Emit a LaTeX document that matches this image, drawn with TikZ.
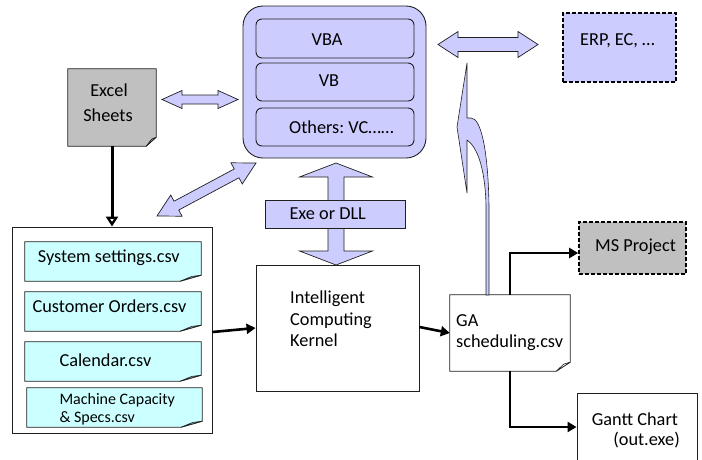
\documentclass[tikz,border=0pt]{standalone}
\usepackage{fontspec}
\setmainfont{Carlito}
\frenchspacing
\usetikzlibrary{calc,arrows.meta}

\definecolor{lav}{HTML}{CCCCFF}
\definecolor{cya}{HTML}{CCFFFF}
\definecolor{gry}{HTML}{C0C0C0}
\definecolor{edge}{HTML}{202020}

\tikzset{
  box/.style={rectangle, draw=edge, line width=0.9pt, inner sep=0pt},
  sheet/.style={rectangle, inner sep=0pt},
  dashbox/.style={rectangle, draw=black, line width=1.6pt, dash pattern=on 4pt off 2pt, inner sep=0pt},
  lbl/.style={inner sep=0pt, font=\fontsize{18.3}{22}\selectfont},
  lblsmall/.style={inner sep=0pt, font=\fontsize{16}{19}\selectfont},
  blockarrow/.style={fill=lav, draw=edge, line width=0.7pt, line join=miter},
  flow/.style={draw=black, line width=2.6pt, -{Triangle[width=10pt,length=9pt]}},
  openflow/.style={draw=black, line width=3pt, -{Triangle[open,width=12pt,length=10pt,line width=2.4pt,fill=white]}},
}

% double-headed block arrow: start, end, head length, head half-width, shaft half-width
\newcommand\blockdbl[5]{%
  \filldraw[blockarrow] (#1)
    -- ($(#1)!#3!(#2)!#4!90:(#2)$) -- ($(#1)!#3!(#2)!#5!90:(#2)$)
    -- ($(#2)!#3!(#1)!#5!-90:(#1)$) -- ($(#2)!#3!(#1)!#4!-90:(#1)$)
    -- (#2)
    -- ($(#2)!#3!(#1)!#4!90:(#1)$) -- ($(#2)!#3!(#1)!#5!90:(#1)$)
    -- ($(#1)!#3!(#2)!#5!-90:(#2)$) -- ($(#1)!#3!(#2)!#4!-90:(#2)$)
    -- cycle;}

% outline of a sheet with a folded bottom-right corner:
% node, fill, fold width, fold height, flap colour
\newcommand\sheetoutline[5]{%
  \filldraw[draw=edge, line width=0.8pt, fill=#2, line join=miter]
    (#1.north west) -- (#1.north east) -- ([shift={(0,-#4)}]#1.south east)
    -- ([shift={(-#3,0)}]#1.south east) -- (#1.south west) -- cycle;
  \filldraw[draw=edge, line width=0.6pt, fill=#5, line join=round]
    ([shift={(-#3,0)}]#1.south east) -- ([shift={(-0.45*#3,-0.8*#4)}]#1.south east)
    -- ([shift={(0,-#4)}]#1.south east) -- cycle;}

\begin{document}
\begin{tikzpicture}[x=1pt,y=-1pt]
\useasboundingbox (0,0) rectangle (702,459);
\clip (0,0) rectangle (702,459);

% ---- programming host with its three languages
\node[box, fill=lav, rounded corners=20pt, minimum width=183pt, minimum height=152pt] (host) at (334.5,82) {};
\node[box, fill=lav, rounded corners=6pt, minimum width=158pt, minimum height=39pt] (vba) at (335,38.5) {};
\node[box, fill=lav, rounded corners=6pt, minimum width=158pt, minimum height=38pt] (vb) at (335,82) {};
\node[box, fill=lav, rounded corners=6pt, minimum width=158pt, minimum height=38pt] (oth) at (335,127) {};
\node[lbl, anchor=base] (vbaT) at (327,45) {VBA};
\node[lbl, anchor=base] (vbT) at (329,86) {VB};
\node[lbl, anchor=base west] (othT) at (289,133) {Others: VC……};

% ---- external systems
\node[dashbox, fill=lav, minimum width=113pt, minimum height=69pt] (erp) at (619.5,47.5) {};
\node[lbl, anchor=base west] (erpT) at (580,45) {ERP, EC, …};
\node[dashbox, fill=gry, minimum width=107pt, minimum height=52pt] (msp) at (632.5,248) {};
\node[lbl, anchor=base west] (mspT) at (595,251.7) {MS Project};

% ---- Excel sheets
\node[sheet, minimum width=88pt, minimum height=77pt] (excel) at (112,107.5) {};
\sheetoutline{excel}{gry}{10}{9}{gry!75!black}
\node[lbl, anchor=base] (excelT1) at (109,96.5) {Excel};
\node[lbl, anchor=base] (excelT2) at (108,121) {Sheets};

% ---- input files
\node[box, minimum width=200pt, minimum height=206pt] (list) at (112,330) {};
\node[sheet, minimum width=176pt, minimum height=39pt] (sys) at (113,261.5) {};
\node[sheet, minimum width=176pt, minimum height=39pt] (cust) at (113,311.5) {};
\node[sheet, minimum width=176pt, minimum height=39pt] (cal) at (113,361.5) {};
\node[sheet, minimum width=175pt, minimum height=39pt] (mach) at (114.5,407.5) {};
\foreach \s in {sys,cust,cal,mach}{\sheetoutline{\s}{cya}{21}{6}{cya!72!black}}
\node[lbl, anchor=base west] (sysT) at (37.7,262) {System settings.csv};
\node[lbl, anchor=base west] (custT) at (32.3,312.7) {Customer Orders.csv};
\node[lbl, anchor=base west] (calT) at (59.3,366) {Calendar.csv};
\node[lblsmall, anchor=base west] (machT1) at (59.3,404) {Machine Capacity};
\node[lblsmall, anchor=base west] (machT2) at (59.3,422.3) {\& Specs.csv};

% ---- kernel
\node[box, minimum width=163pt, minimum height=126pt] (kern) at (337.5,328) {};
\node[lbl, anchor=base west] (kernT1) at (290,303.3) {Intelligent};
\node[lbl, anchor=base west] (kernT2) at (290,325) {Computing};
\node[lbl, anchor=base west] (kernT3) at (290,346.7) {Kernel};

% ---- schedule output
\node[sheet, minimum width=120pt, minimum height=76pt] (ga) at (510,333) {};
\sheetoutline{ga}{white}{14}{9}{white}
\node[lbl, anchor=base west] (gaT1) at (456,326) {GA};
\node[lbl, anchor=base west] (gaT2) at (456,347) {scheduling.csv};

\node[box, minimum width=120pt, minimum height=82pt] (gantt) at (637,434) {};
\node[lbl, anchor=base west] (ganttT1) at (591.7,425) {Gantt Chart};
\node[lbl, anchor=base east] (ganttT2) at (680,445.7) {(out.exe)};

% ---- block arrows between the host and its neighbours
\coordinate (xa) at (162,99.5);  \coordinate (xb) at (238,99.5);
\coordinate (ea) at (438,44.5);  \coordinate (eb) at (538,44.5);
\coordinate (da) at (157,216);   \coordinate (db) at (256,163);
\coordinate (ka) at (336,163);   \coordinate (kb) at (336,265);
\blockdbl{xa}{xb}{20pt}{9pt}{4.5pt}
\blockdbl{ea}{eb}{20pt}{13pt}{7pt}
\blockdbl{da}{db}{22pt}{12pt}{5pt}
\blockdbl{ka}{kb}{14pt}{36.5pt}{8pt}
\node[box, fill=lav, line width=0.7pt, minimum width=140.7pt, minimum height=28.3pt] (exe) at (335.3,214.2) {};
\node[lbl, anchor=base west] (exeT) at (289.3,219.3) {Exe or DLL};

% ---- curved return arrow from the schedule up to the host link
\filldraw[blockarrow, line width=0.6pt, line join=round]
  (467,63) -- (457,127) -- (467,193) -- (467,140)
  .. controls (476,146) and (485,165) .. (486,205) -- (486,295)
  -- (489,295) -- (489,205)
  .. controls (488,150) and (481,118) .. (471,118) -- (467,118) -- cycle;

% ---- data flow
\draw[openflow] (excel.south) -- (list.north);
\draw[flow] ([yshift=-2pt]list.east) -- (kern.west);
\draw[flow] ([yshift=1pt]kern.east) -- (ga.west);
\draw[flow] (ga.north) |- ([yshift=-5pt]msp.west);
\draw[flow] (ga.south) |- ([yshift=7pt]gantt.west);
\end{tikzpicture}
\end{document}
